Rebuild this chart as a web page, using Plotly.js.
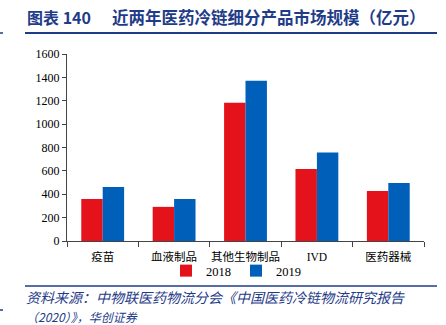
<!DOCTYPE html>
<html><head><meta charset="utf-8">
<script src="https://cdn.plot.ly/plotly-3.0.1.min.js"></script>
<style>html,body{margin:0;padding:0;background:#fff;}#chart{width:446px;height:325px;}</style>
</head><body><div id="chart"></div>
<script>
const categories = ["疫苗", "血液制品", "其他生物制品", "IVD", "医药器械"];
const values2018 = [360, 292, 1182, 616, 428];
const values2019 = [462, 360, 1372, 758, 496];
const seriesNames = ["2018", "2019"];
const yTicks = [0, 200, 400, 600, 800, 1000, 1200, 1400, 1600];

const PL = 67, PR = 424, PT = 54, PB = 241;
const px = x => (x - PL) / (PR - PL);
const py = y => (PB - y) / (PB - PT);

const traces = [
  {type: "bar", name: seriesNames[0], x: categories, y: values2018, marker: {color: "#E3121B"}},
  {type: "bar", name: seriesNames[1], x: categories, y: values2019, marker: {color: "#005FB8"}}
];
const navy = "#1F3C88";
const layout = {
  width: 446, height: 325,
  margin: {l: PL, r: 446 - PR, t: PT, b: 325 - PB},
  paper_bgcolor: "#fff", plot_bgcolor: "#fff",
  barmode: "group", bargap: 0.4, bargroupgap: 0,
  showlegend: true,
  legend: {orientation: "h", x: px(236), xanchor: "center", y: py(271), yanchor: "middle",
    bgcolor: "rgba(0,0,0,0)",
    font: {family: "Liberation Serif, serif", size: 12.5, color: "#000"}, itemwidth: 30,
    traceorder: "normal", tracegroupgap: 0},
  xaxis: {showline: true, linecolor: "#444", linewidth: 1, ticks: "outside", tickson: "boundaries",
    ticklen: 5, tickcolor: "#444", showgrid: false, tickangle: 0, automargin: false, ticklabelstandoff: 5,
    tickfont: {family: "Liberation Serif, Noto Sans CJK SC, serif", size: 11.5, color: "#000"}},
  yaxis: {range: [0, 1600], tickvals: yTicks, showline: true, linecolor: "#444", linewidth: 1,
    ticks: "outside", ticklen: 4, tickcolor: "#444", showgrid: false, zeroline: false,
    tickfont: {family: "Liberation Serif, serif", size: 12, color: "#000"}},
  shapes: [
    {type: "line", xref: "paper", yref: "paper", x0: px(25), x1: px(437), y0: py(33), y1: py(33),
      line: {color: navy, width: 2}},
    {type: "line", xref: "paper", yref: "paper", x0: px(25), x1: px(437), y0: py(286), y1: py(286),
      line: {color: navy, width: 1.5}},
    {type: "line", xref: "paper", yref: "paper", x0: px(0), x1: px(3), y0: py(33), y1: py(33),
      line: {color: navy, width: 1.5}},
    {type: "line", xref: "paper", yref: "paper", x0: px(0), x1: px(3), y0: py(310), y1: py(310),
      line: {color: navy, width: 1.5}}
  ],
  annotations: [
    {xref: "paper", yref: "paper", x: px(25), y: py(17), xanchor: "left", yanchor: "middle", showarrow: false,
      text: "<b>图表 140</b>",
      font: {family: "Noto Sans CJK SC, sans-serif", size: 16, color: navy}},
    {xref: "paper", yref: "paper", x: px(110), y: py(17), xanchor: "left", yanchor: "middle", showarrow: false,
      text: "<b>近两年医药冷链细分产品市场规模（亿元）</b>",
      font: {family: "Noto Sans CJK SC, sans-serif", size: 16.5, color: navy}},
    {xref: "paper", yref: "paper", x: px(25), y: py(297), xanchor: "left", yanchor: "middle", showarrow: false,
      borderpad: 0,
      text: "<i>资料来源：中物联医药物流分会《中国医药冷链物流研究报告</i>",
      font: {family: "Noto Sans CJK SC, sans-serif", size: 14, color: navy}},
    {xref: "paper", yref: "paper", x: px(25), y: py(316), xanchor: "left", yanchor: "middle", showarrow: false,
      borderpad: 0,
      text: "<i>（2020）》，华创证券</i>",
      font: {family: "Noto Sans CJK SC, sans-serif", size: 12, color: navy}}
  ]
};
Plotly.newPlot("chart", traces, layout, {staticPlot: true, displayModeBar: false});
</script></body></html>
